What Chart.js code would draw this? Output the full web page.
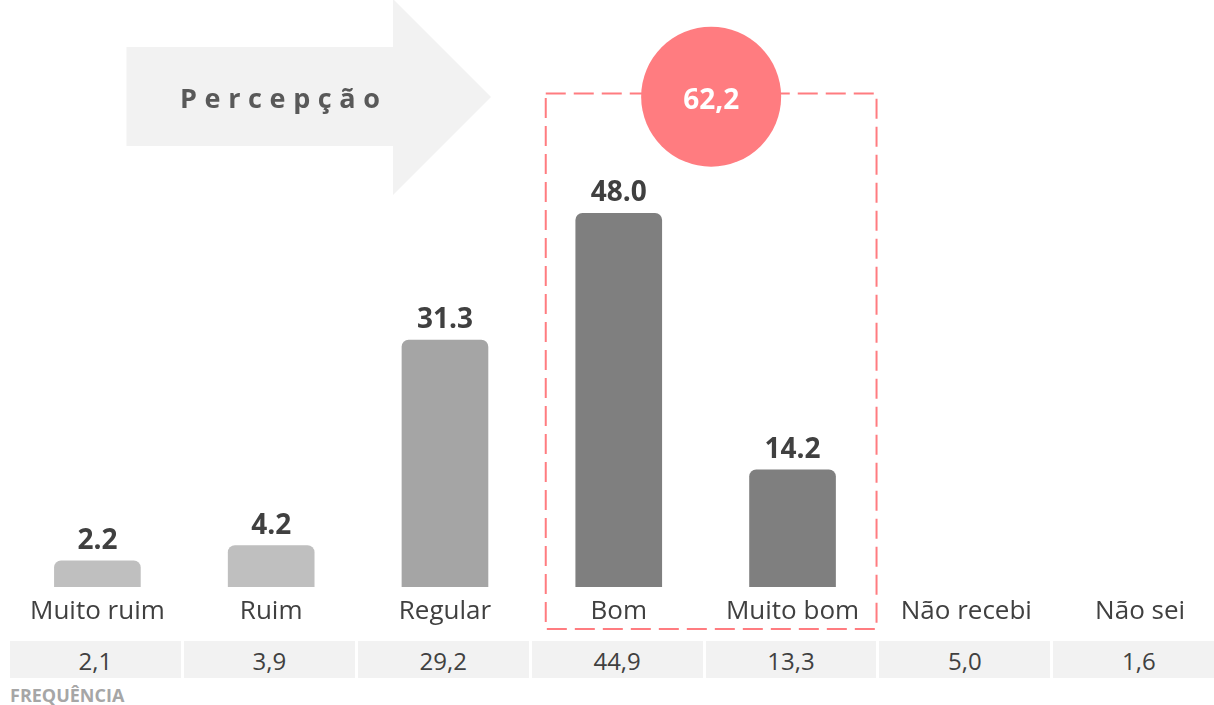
<!DOCTYPE html>
<html lang="pt">
<head>
<meta charset="utf-8">
<title>Percepção</title>
<script src="https://cdn.jsdelivr.net/npm/chart.js@4.4.1/dist/chart.umd.min.js"></script>
<style>
  html, body { margin: 0; padding: 0; background: #fff; overflow: hidden; }
  body { width: 1214px; height: 705px; position: relative; font-family: 'Open Sans', sans-serif; }
  #wrap { position: absolute; left: 0; top: 0; width: 1240px; height: 705px; }
  #chart { position: absolute; left: 0; top: 0; }
  #freq { position: absolute; left: 10px; top: 641px; display: flex; }
  #freq div {
    box-sizing: border-box; width: 170.9px; height: 37px; margin-right: 3px;
    background: #F2F2F2; color: #404040; font-size: 24px; line-height: 37px;
    padding-top: 1px; text-align: center;
  }
  #freqLabel {
    position: absolute; left: 10px; top: 686px; font-size: 18px; line-height: 18px;
    font-weight: bold; color: #A6A6A6;
  }
</style>
</head>
<body>
<div id="wrap">
  <canvas id="chart" width="1227" height="640"></canvas>
  <div id="freq"></div>
  <div id="freqLabel">FREQUÊNCIA</div>
</div>
<script>
const categories = ['Muito ruim', 'Ruim', 'Regular', 'Bom', 'Muito bom', 'Não recebi', 'Não sei'];
const percepcao = [2.2, 4.2, 31.3, 48.0, 14.2, null, null];
const frequencia = [2.1, 3.9, 29.2, 44.9, 13.3, 5.0, 1.6];
const destaque = [3, 4]; // Bom + Muito bom

const barColors = ['#BFBFBF', '#BFBFBF', '#A5A5A5', '#7F7F7F', '#7F7F7F', '#7F7F7F', '#7F7F7F'];
const Y_MIN = -1.25;
const Y_MAX = 76.1;

const virgula = v => v.toFixed(1).replace('.', ',');

// linha de frequência abaixo do gráfico
const freq = document.getElementById('freq');
frequencia.forEach(v => {
    const cell = document.createElement('div');
    cell.textContent = virgula(v);
    freq.appendChild(cell);
});

const decor = {
    id: 'decor',
    beforeDatasetsDraw(chart) {
        const ctx = chart.ctx;
        ctx.save();
        // seta cinza com o texto
        ctx.fillStyle = '#F2F2F2';
        ctx.beginPath();
        ctx.moveTo(126.5, 47);
        ctx.lineTo(393, 47);
        ctx.lineTo(393, -1);
        ctx.lineTo(491, 97);
        ctx.lineTo(393, 195);
        ctx.lineTo(393, 146);
        ctx.lineTo(126.5, 146);
        ctx.closePath();
        ctx.fill();

        // texto espaçado: letras distribuídas entre x=181 e x=380
        const txt = [...'Percepção'];
        ctx.fillStyle = '#595959';
        ctx.font = 'bold 27px "Open Sans"';
        ctx.textAlign = 'left';
        ctx.textBaseline = 'alphabetic';
        const larguras = txt.map(ch => ctx.measureText(ch).width);
        const gap = (200 - larguras.reduce((a, b) => a + b, 0)) / (txt.length - 1);
        let x = 180;
        txt.forEach((ch, i) => {
            ctx.fillText(ch, x, 108.3);
            x += larguras[i] + gap;
        });
        ctx.restore();
    },
    afterDatasetsDraw(chart) {
        const ctx = chart.ctx;
        const meta = chart.getDatasetMeta(0);
        ctx.save();

        // valores sobre as barras
        ctx.fillStyle = '#404040';
        ctx.font = 'bold 28px "Open Sans"';
        ctx.textAlign = 'center';
        ctx.textBaseline = 'alphabetic';
        meta.data.forEach((bar, i) => {
            if (percepcao[i] == null) return;
            ctx.fillText(percepcao[i].toFixed(1), bar.x, bar.y - 12);
        });

        // caixa tracejada em torno de Bom / Muito bom
        const xs = chart.scales.x;
        const left = xs.getPixelForValue(destaque[0]) - 73;
        const right = xs.getPixelForValue(destaque[destaque.length - 1]) + 84;
        const top = 93.5, bottom = 629;
        ctx.strokeStyle = '#FF7C80';
        ctx.lineWidth = 2;
        ctx.setLineDash([20, 8]);
        ctx.strokeRect(left, top, right - left, bottom - top);
        ctx.setLineDash([]);

        // círculo com a soma
        const soma = destaque.reduce((s, i) => s + percepcao[i], 0);
        const cx = (left + right) / 2;
        ctx.fillStyle = '#FF7C80';
        ctx.beginPath();
        ctx.arc(cx, 96.7, 70, 0, Math.PI * 2);
        ctx.fill();
        ctx.fillStyle = '#FFFFFF';
        ctx.fillText(virgula(soma), cx, 108.5);

        ctx.restore();
    }
};

new Chart(document.getElementById('chart'), {
    type: 'bar',
    data: {
        labels: categories,
        datasets: [{
            data: percepcao,
            backgroundColor: barColors,
            base: Y_MIN,
            barThickness: 86,
            borderRadius: { topLeft: 7, topRight: 7 },
            borderSkipped: 'start'
        }]
    },
    options: {
        responsive: false,
        animation: false,
        layout: { padding: { left: 10.5, right: 0, top: 0, bottom: 0 } },
        scales: {
            x: {
                grid: { display: false, drawTicks: false },
                border: { display: false },
                ticks: {
                    color: '#404040',
                    font: { family: 'Open Sans', size: 26 },
                    padding: 9,
                    maxRotation: 0
                },
                afterFit: scale => { scale.height = 53; }
            },
            y: {
                display: false,
                min: Y_MIN,
                max: Y_MAX
            }
        },
        plugins: {
            legend: { display: false },
            tooltip: { enabled: false }
        }
    },
    plugins: [decor]
});
</script>
</body>
</html>
